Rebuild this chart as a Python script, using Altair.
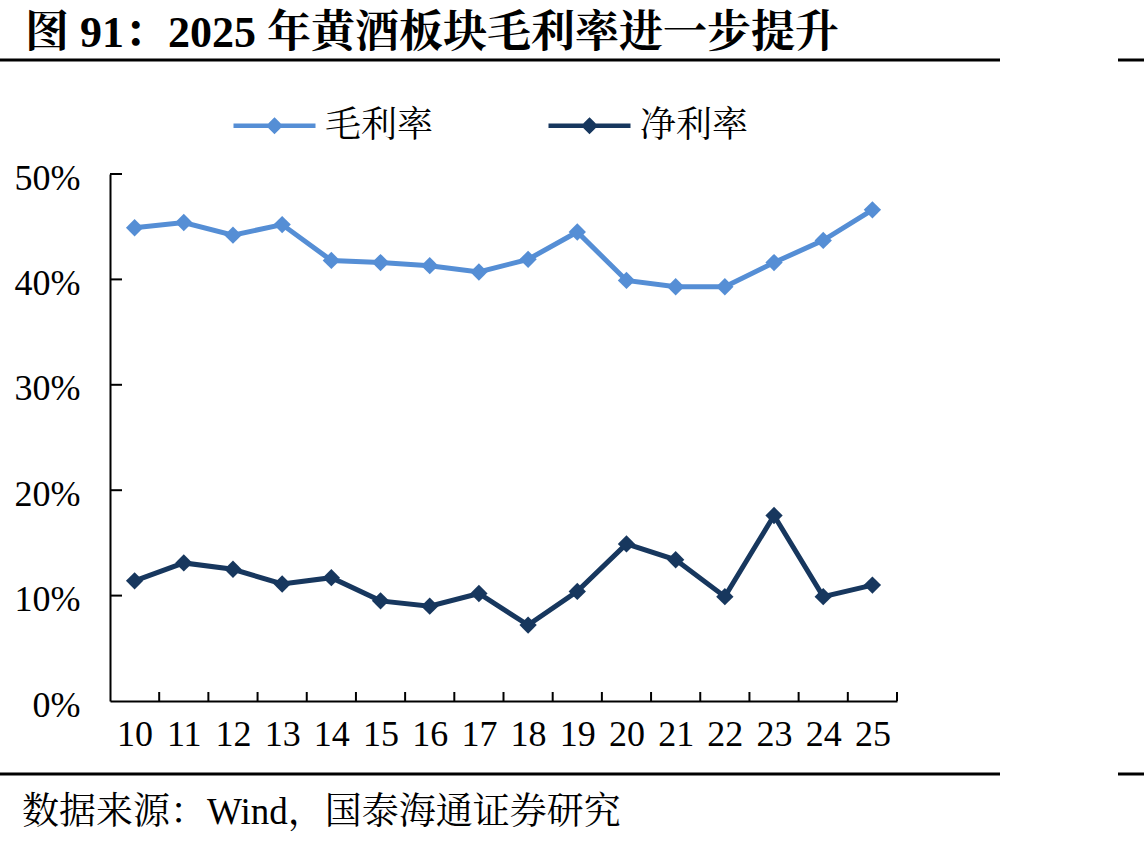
import altair as alt
import pandas as pd

# ---------------- data ----------------
years = list(range(10, 26))
gross_margin = [44.9, 45.4, 44.2, 45.2, 41.8, 41.6, 41.3, 40.7, 41.9, 44.5, 39.9, 39.3, 39.3, 41.6, 43.7, 46.6]
net_margin = [11.4, 13.1, 12.5, 11.1, 11.7, 9.5, 9.0, 10.2, 7.2, 10.4, 14.9, 13.4, 9.9, 17.6, 9.9, 11.0]
series_names = ["毛利率", "净利率"]
series_colors = ["#558ED5", "#17375E"]
y_tick_values = [0, 0.1, 0.2, 0.3, 0.4, 0.5]
title_text = "图 91：2025 年黄酒板块毛利率进一步提升"
source_text = "数据来源：Wind，国泰海通证券研究"

rows = []
for i, yr in enumerate(years):
    rows.append({"year": yr, "series": series_names[0], "value": gross_margin[i] / 100})
    rows.append({"year": yr, "series": series_names[1], "value": net_margin[i] / 100})
df = pd.DataFrame(rows)

xtick_df = pd.DataFrame({"b": [y + 0.5 for y in years]})
ytick_df = pd.DataFrame({"v": y_tick_values[1:]})

# ---------------- style ----------------
FONT = "'Liberation Serif', 'Noto Serif CJK SC', 'Noto Sans CJK SC', serif"
W, H = 787, 527
OX, OY = 110, 174

x_scale = alt.Scale(domain=[9.5, 25.5], nice=False, zero=False)
y_scale = alt.Scale(domain=[0, 0.5], nice=False)
x_axis = alt.Axis(values=years, format="d", ticks=False, tickSize=0, labelFontSize=36,
                  labelFont=FONT, labelColor="black", labelPadding=16, domainColor="black",
                  domainWidth=2, grid=False, title=None, labelFlush=False, labelOverlap=False)
y_axis = alt.Axis(values=y_tick_values, format=".0%", ticks=False, tickSize=0, labelFontSize=36,
                  labelFont=FONT, labelColor="black", labelPadding=30, domainColor="black",
                  domainWidth=2, grid=False, title=None, labelOffset=4, labelFlush=False,
                  labelOverlap=False)

X = alt.X("year:Q", scale=x_scale, axis=x_axis)
Y = alt.Y("value:Q", scale=y_scale, axis=y_axis)
color_scale = alt.Scale(domain=series_names, range=series_colors)

# line segment + small diamond, drawn by stroke (and fill if any)
LEGEND_PATH = ("M-1,0L1,0 "
               "M0,-0.13L0.13,0L0,0.13L-0.13,0Z "
               "M0,-0.13L0,0.13")

legend = alt.Legend(
    orient="none", legendX=121, legendY=-92, direction="horizontal", title=None,
    symbolType=LEGEND_PATH, symbolSize=6724, symbolStrokeWidth=4.5, symbolOpacity=1,
    labelFontSize=36, labelFont=FONT, labelColor="black", labelOffset=7,
    columnPadding=105, padding=0, labelLimit=300)

color_enc = alt.Color("series:N", scale=color_scale, legend=legend)

lines = alt.Chart(df).mark_line(strokeWidth=5).encode(x=X, y=Y, color=color_enc)

points = alt.Chart(df).mark_point(filled=True, shape="diamond", size=300, opacity=1).encode(
    x=X, y=Y, color=color_enc)

xticks = alt.Chart(xtick_df).mark_rule(color="black", strokeWidth=2).encode(
    x=alt.X("b:Q", scale=x_scale, axis=x_axis),
    y=alt.value(H), y2=alt.value(H - 9),
)
yticks = alt.Chart(ytick_df).mark_rule(color="black", strokeWidth=2).encode(
    y=alt.Y("v:Q", scale=y_scale, axis=y_axis),
    x=alt.value(0), x2=alt.value(12),
)

one = pd.DataFrame({"t": [title_text], "s": [source_text]})
title = alt.Chart(one).mark_text(align="left", baseline="alphabetic", fontSize=44,
                                 fontWeight="bold", font=FONT, color="black").encode(
    text="t:N", x=alt.value(25 - OX), y=alt.value(47 - OY))
source = alt.Chart(one).mark_text(align="left", baseline="alphabetic", fontSize=37,
                                  font=FONT, color="black").encode(
    text="s:N", x=alt.value(22 - OX), y=alt.value(824 - OY))

def hrule(x0, x1, y):
    return alt.Chart(one).mark_rule(color="black", strokeWidth=3).encode(
        x=alt.value(x0 - OX), x2=alt.value(x1 - OX), y=alt.value(y - OY))

decor = [hrule(0, 1000, 60), hrule(1118, 1144, 60), hrule(0, 1000, 774), hrule(1118, 1144, 774)]

chart = alt.layer(xticks, yticks, lines, points, title, source, *decor).properties(
    width=W, height=H,
    padding={"left": OX, "top": OY, "right": 1144 - OX - W, "bottom": 844 - OY - H},
    autosize=alt.AutoSizeParams(type="none"),
    background="white",
).configure_view(stroke=None)

chart.save("out.html", embed_options={"renderer": "svg", "actions": False})
